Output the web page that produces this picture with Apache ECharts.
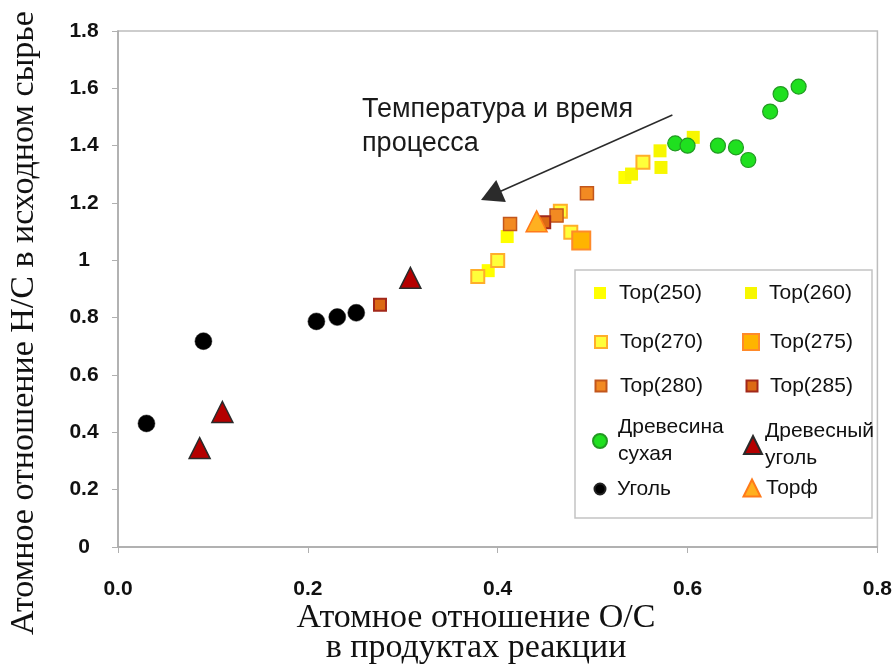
<!DOCTYPE html>
<html><head><meta charset="utf-8">
<script src="https://cdn.jsdelivr.net/npm/echarts@6/dist/echarts.min.js"></script>
<style>html,body{margin:0;padding:0;background:#fff}#c{width:895px;height:671px}</style>
</head><body><div id="c"></div>
<script>
// ---- data (x = O/C, y = H/C) ----
const top250 = [[0.410,1.083],[0.390,0.964],[0.534,1.289]];
const top260 = [[0.541,1.301],[0.571,1.382],[0.572,1.324],[0.606,1.429]];
const top270 = [[0.379,0.944],[0.400,0.999],[0.466,1.171],[0.477,1.098],[0.553,1.342]];
const top275 = [[0.488,1.069]];
const top280 = [[0.413,1.127],[0.462,1.156],[0.494,1.234]];
const top285 = [[0.449,1.133],[0.276,0.845]];
const woodDry = [[0.587,1.408],[0.600,1.400],[0.632,1.400],[0.651,1.394],[0.664,1.350],[0.687,1.519],[0.698,1.580],[0.717,1.606]];
const charcoal = [[0.086,0.345],[0.110,0.471],[0.308,0.939]];
const coal = [[0.030,0.431],[0.090,0.718],[0.209,0.787],[0.231,0.802],[0.251,0.817]];
const peat = [[0.441,1.136]];
const arrowFrom = [0.584,1.507];
const arrowTo = [0.393,1.226];
const xTickLabels = ['0.0','0.2','0.4','0.6','0.8'];
const yTickLabels = ['0','0.2','0.4','0.6','0.8','1','1.2','1.4','1.6','1.8'];
const seriesNames = ['Top(250)','Top(260)','Top(270)','Top(275)','Top(280)','Top(285)','Древесина\nсухая','Древесный\nуголь','Уголь','Торф'];
const annotation = 'Температура и время\nпроцесса';
const xTitle = 'Атомное отношение О/С\nв продуктах реакции';
const yTitle = 'Атомное отношение Н/С в исходном сырье';

const chart = echarts.init(document.getElementById('c'));
const SANS = '"Liberation Sans",Arial,sans-serif';

function leg(name, cx, cy, size, textX, lines) {
  const lh = 27;
  const h = lh * (lines || 1);
  const left = cx - size / 2;
  const pad = textX - (left + size + 5);
  return {
    data: [name], left: left, top: cy - h / 2, padding: 0,
    itemWidth: size, itemHeight: size, selectedMode: false,
    textStyle: {fontFamily: SANS, fontSize: 21, lineHeight: lh, color: '#111', padding: [0,0,0,pad]}
  };
}

const styles = [
  {data: top250, symbol: 'rect', size: 13, item: {color: '#ffff00'}},
  {data: top260, symbol: 'rect', size: 13, item: {color: '#f7f700'}},
  {data: top270, symbol: 'rect', size: 13, item: {color: '#ffff3a', borderColor: '#ffae2a', borderWidth: 2}},
  {data: top275, symbol: 'rect', size: 18, item: {color: '#ffb400', borderColor: '#ff8a2a', borderWidth: 2}},
  {data: top280, symbol: 'rect', size: 13, item: {color: '#f28a22', borderColor: '#c2561c', borderWidth: 1.5}},
  {data: top285, symbol: 'rect', size: 12, item: {color: '#dc6a14', borderColor: '#a2281a', borderWidth: 2}},
  {data: woodDry, symbol: 'circle', size: 15, item: {color: '#1fe01f', borderColor: '#229a22', borderWidth: 1.2}},
  {data: charcoal, symbol: 'triangle', size: 21, item: {color: '#b40000', borderColor: '#2a2a2a', borderWidth: 1.5}},
  {data: coal, symbol: 'circle', size: 17, item: {color: '#000000', borderColor: '#222', borderWidth: 0.5}},
  {data: peat, symbol: 'triangle', size: 21, item: {color: '#ffb020', borderColor: '#ff7a1a', borderWidth: 1.5}}
];

const series = styles.map((s, i) => ({
  name: seriesNames[i], type: 'scatter', data: s.data, symbol: s.symbol,
  symbolSize: s.size, itemStyle: Object.assign({opacity: 1}, s.item), z: 2 + i * 0.1
}));
series.push({
  type: 'line', data: [], silent: true,
  markLine: {
    silent: true, symbol: ['none', 'triangle'], symbolSize: [24, 22],
    lineStyle: {color: '#2b2b2b', width: 1.5, type: 'solid', opacity: 1}, label: {show: false},
    itemStyle: {color: '#000'},
    data: [[{coord: arrowFrom}, {coord: arrowTo}]]
  }
});

const legends = [
  leg(seriesNames[0], 600, 293, 12, 619, 1),
  leg(seriesNames[1], 751, 293, 12, 769, 1),
  leg(seriesNames[2], 600, 342, 12, 619, 1),
  leg(seriesNames[3], 750, 342, 16, 769, 1),
  leg(seriesNames[4], 600, 386, 11, 619, 1),
  leg(seriesNames[5], 751, 386, 11, 769, 1),
  leg(seriesNames[6], 599, 441, 14, 617, 2),
  leg(seriesNames[7], 752, 445, 18, 764, 2),
  leg(seriesNames[8], 599, 489, 11, 616, 1),
  leg(seriesNames[9], 751, 488, 17, 765, 1)
];

chart.setOption({
  animation: false,
  backgroundColor: '#fff',
  grid: {left: 118, right: 17, top: 31, bottom: 124, show: true, borderColor: '#bdbdbd', borderWidth: 1.5},
  xAxis: {
    type: 'value', min: 0, max: 0.8, interval: 0.2,
    axisLine: {show: true, lineStyle: {color: '#a8a8a8', width: 1.5}},
    axisTick: {show: true, length: 6, lineStyle: {color: '#b0b0b0'}},
    splitLine: {show: false},
    axisLabel: {margin: 32, fontFamily: SANS, fontWeight: 'bold', fontSize: 21, color: '#111',
      formatter: (v) => xTickLabels[Math.round(v / 0.2)]}
  },
  yAxis: {
    type: 'value', min: 0, max: 1.8, interval: 0.2,
    axisLine: {show: true, lineStyle: {color: '#a8a8a8', width: 1.5}},
    axisTick: {show: true, length: 6, lineStyle: {color: '#b0b0b0'}},
    splitLine: {show: false},
    axisLabel: {margin: 34, align: 'center', fontFamily: SANS, fontWeight: 'bold', fontSize: 21, color: '#111',
      formatter: (v) => yTickLabels[Math.round(v / 0.2)]}
  },
  legend: legends,
  series: series,
  graphic: [
    {type: 'rect', shape: {x: 575, y: 270, width: 297, height: 248},
     style: {fill: 'none', stroke: '#c4c4c4', lineWidth: 1.5}, z: 1},
    {type: 'text', left: 362, top: 93,
     style: {text: annotation, font: '27px "Liberation Sans", Arial, sans-serif', lineHeight: 34, fill: '#1a1a1a'}},
    {type: 'text', x: 476, y: 633, style: {text: xTitle, font: '34px "Liberation Serif", "Times New Roman", serif',
      lineHeight: 30, fill: '#111', align: 'center', verticalAlign: 'middle'}},
    {type: 'text', x: 24, y: 323, rotation: Math.PI / 2,
     style: {text: yTitle, font: '34px "Liberation Serif", "Times New Roman", serif', fill: '#111', align: 'center', verticalAlign: 'middle'}}
  ]
});
</script></body></html>
